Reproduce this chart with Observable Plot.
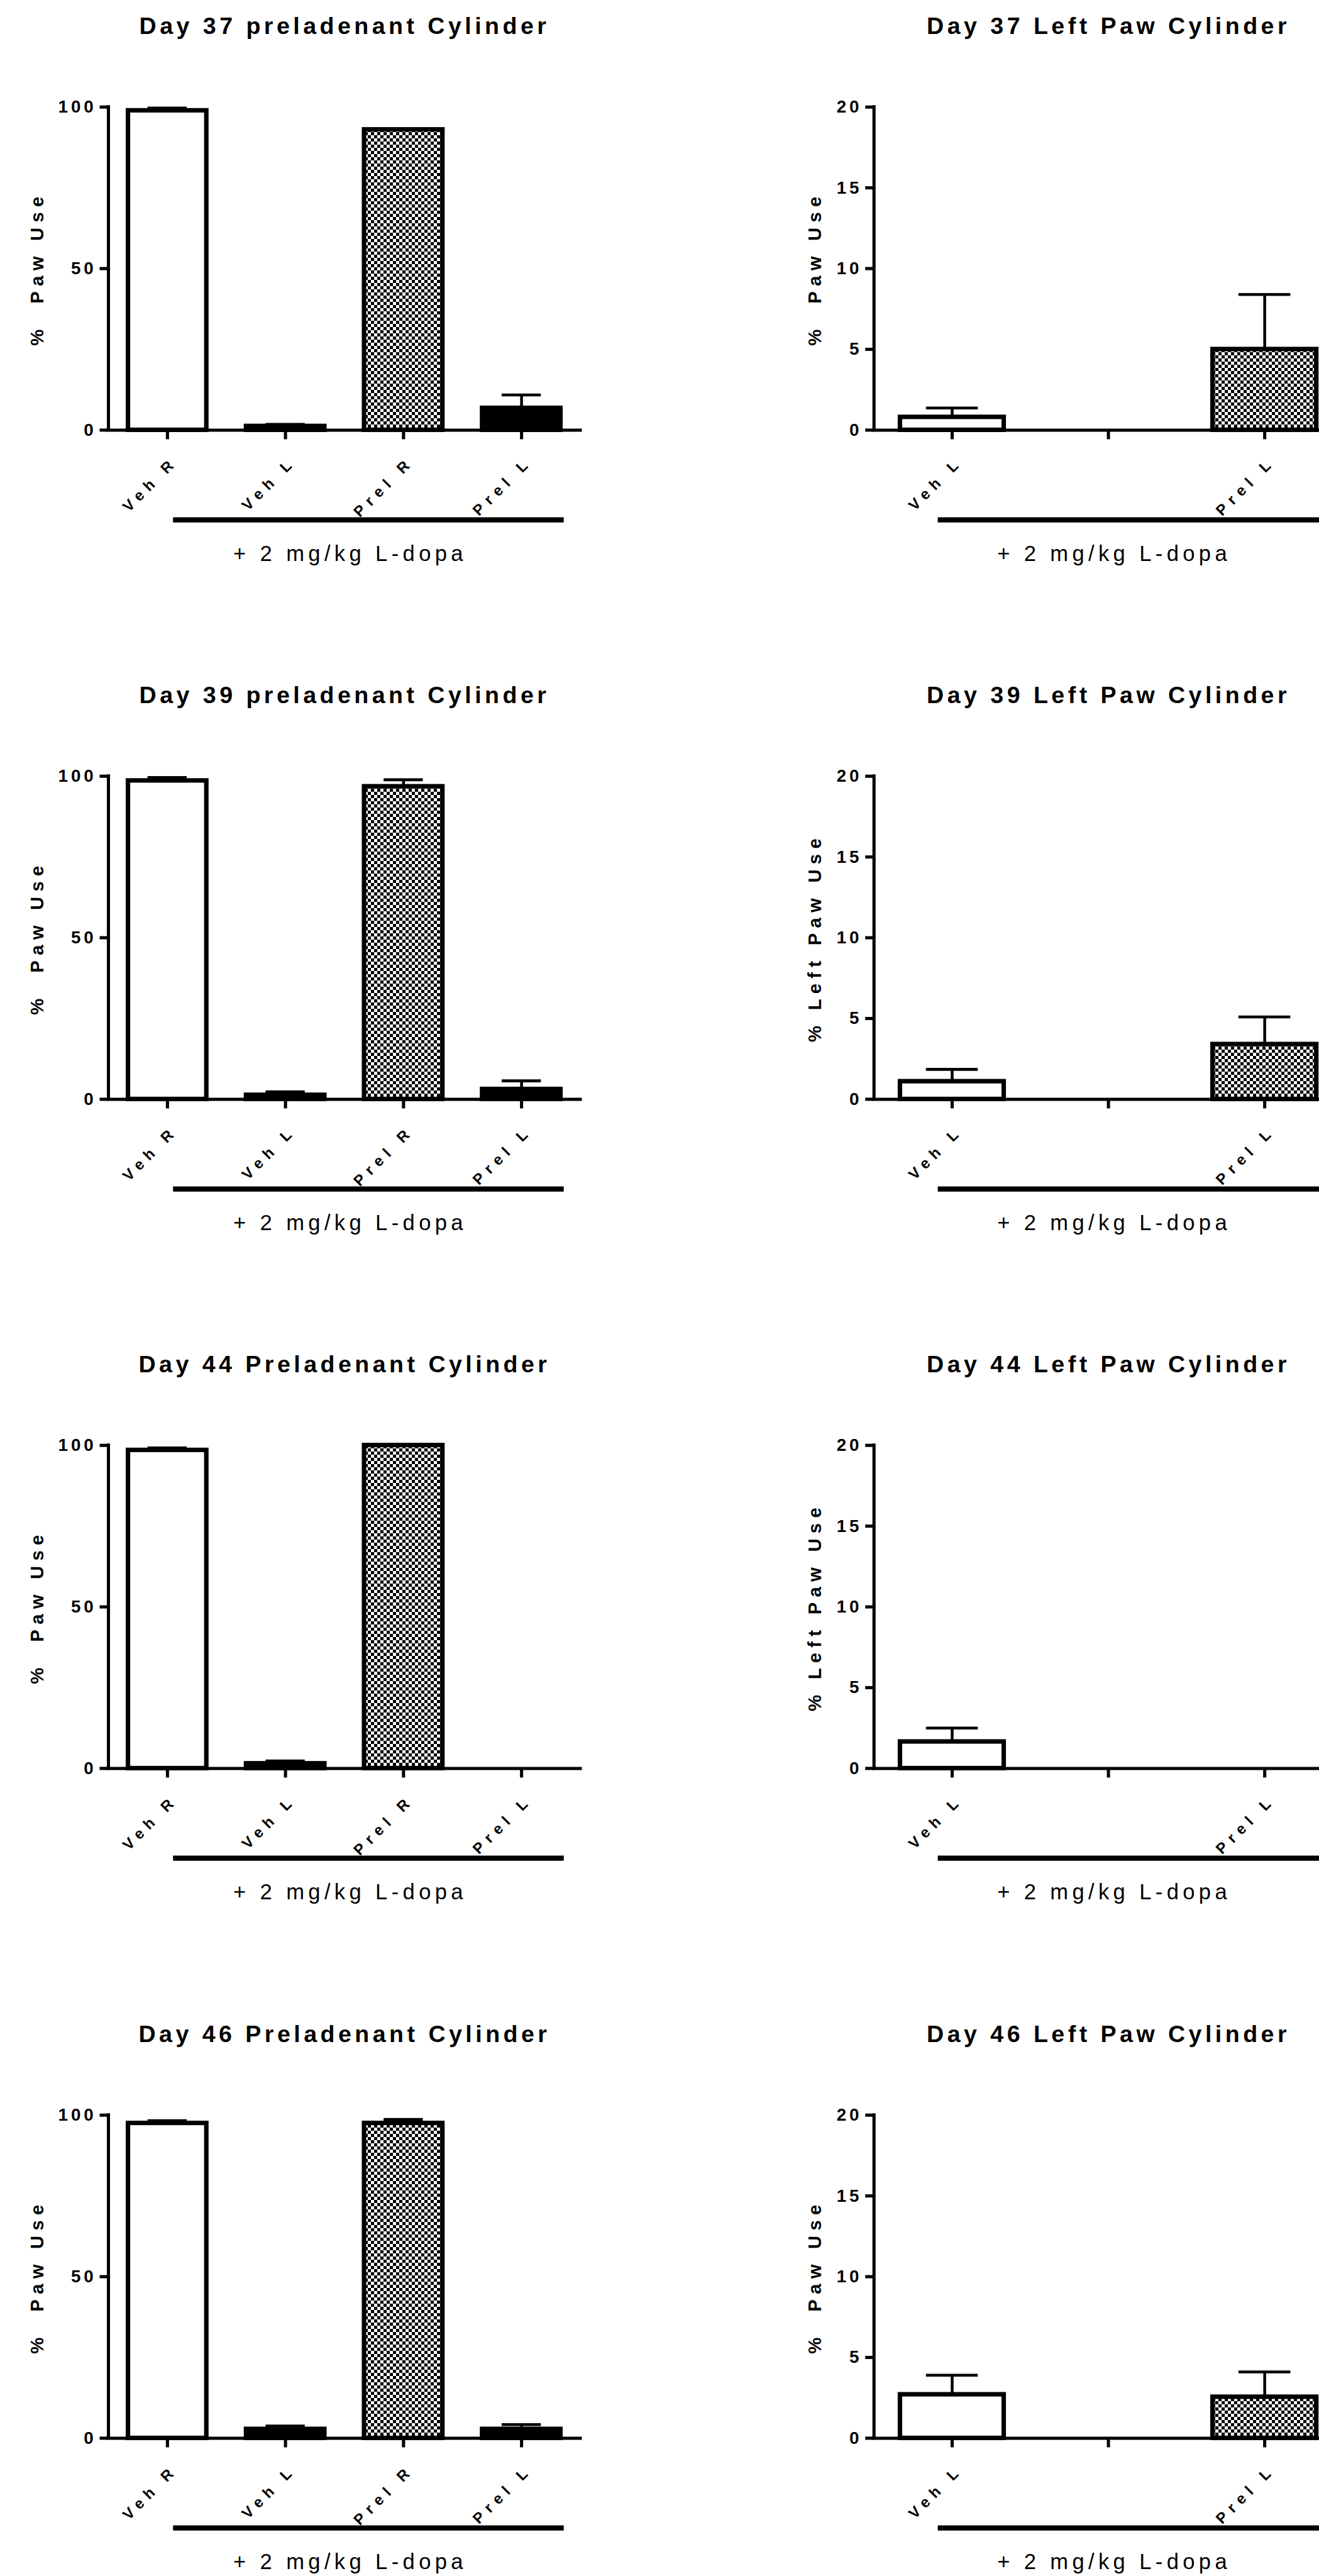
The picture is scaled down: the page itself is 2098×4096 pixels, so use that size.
<!DOCTYPE html>
<html>
<head>
<meta charset="utf-8">
<script src="https://cdn.jsdelivr.net/npm/d3@7"></script>
<script src="https://cdn.jsdelivr.net/npm/@observablehq/plot@0.6"></script>
<style>
  html, body { margin: 0; padding: 0; background: #fff; overflow: hidden; width: 2098px; height: 4096px; }
  #root { position: relative; width: 2098px; height: 4096px; overflow: hidden; font-family: "Liberation Sans", Arial, sans-serif; }
  .panel { position: absolute; }
  .panel svg { overflow: visible; max-width: none !important; }
</style>
</head>
<body>
<svg width="0" height="0" style="position:absolute">
  <defs>
    <pattern id="checker" patternUnits="userSpaceOnUse" width="10" height="10">
      <rect width="10" height="10" fill="#fff"></rect>
      <rect width="5" height="5" fill="#000"></rect>
      <rect x="5" y="5" width="5" height="5" fill="#000"></rect>
    </pattern>
  </defs>
</svg>
<div id="root"></div>
<script>
// ---------- data ----------
const leftTitles = ["Day 37 preladenant Cylinder", "Day 39 preladenant Cylinder", "Day 44 Preladenant Cylinder", "Day 46 Preladenant Cylinder"];
const rightTitles = ["Day 37 Left Paw Cylinder", "Day 39 Left Paw Cylinder", "Day 44 Left Paw Cylinder", "Day 46 Left Paw Cylinder"];
const leftYLabels = ["%  Paw Use", "%  Paw Use", "%  Paw Use", "%  Paw Use"];
const rightYLabels = ["%  Paw Use", "% Left Paw Use", "% Left Paw Use", "%  Paw Use"];
const leftCategories = ["Veh R", "Veh L", "Prel R", "Prel L"];
const rightCategories = ["Veh L", "", "Prel L"];
const leftYTicks = [0, 50, 100];
const rightYTicks = [0, 5, 10, 15, 20];
const groupLabel = "+ 2 mg/kg L-dopa";

// mean values (rows = days 37, 39, 44, 46)
const leftMeans = [
  [98.9, 1.2, 93.0, 6.8],
  [98.6, 1.3, 96.8, 3.1],
  [98.5, 1.5, 100.0, 0],
  [97.5, 2.8, 97.5, 2.8]
];
const leftSems = [
  [0.8, 0.6, 0, 4.1],
  [1.0, 1.0, 2.1, 2.6],
  [0.7, 0.8, 0, 0],
  [0.8, 1.0, 1.2, 1.4]
];
const rightMeans = [
  [0.8, 0, 5.0],
  [1.1, 0, 3.4],
  [1.65, 0, 0],
  [2.7, 0, 2.55]
];
const rightSems = [
  [0.57, 0, 3.4],
  [0.75, 0, 1.7],
  [0.85, 0, 0],
  [1.2, 0, 1.55]
];

// ---------- drawing ----------
const S = 0.751;
const FONT = "Liberation Sans, Arial, sans-serif";
const FS = {title: 50 * S, ytick: 37 * S, ylabel: 39 * S, xlab: 32 * S, group: 46 * S};
const LS = [[FS.title, 7.3 * S], [FS.ytick, 6.6 * S], [FS.ylabel, 11 * S], [FS.xlab, 12 * S], [FS.group, 8.5 * S]];

function fillOf(cat, side) {
  if (side === "left") return cat === "Veh R" ? "white" : cat === "Prel R" ? "url(#checker)" : "black";
  return cat === "Veh L" ? "white" : "url(#checker)";
}

function applySpacing(svg) {
  svg.querySelectorAll("g[font-size]").forEach(g => {
    const fs = parseFloat(g.getAttribute("font-size"));
    for (const [size, ls] of LS) if (Math.abs(fs - size) < 0.01) g.setAttribute("letter-spacing", ls);
  });
}

function panel({cats, means, sems, yMax, yTicks, title, ylabel, side, ml, step, mr, ylabDx, bracket}) {
  const n = cats.length;
  const rows = cats.map((c, i) => ({i, cat: c, mean: means[i], sem: sems[i]}));
  const bars = rows.filter(d => d.cat && d.mean > 0).map(d => ({...d, fill: fillOf(d.cat, side)}));
  const errs = bars.filter(d => d.sem > 0);
  const labels = rows.filter(d => d.cat);
  const half = 0.332, cap = 0.166;
  const marks = [];
  for (const f of ["white", "black", "url(#checker)"]) {
    marks.push(Plot.rect(bars.filter(d => d.fill === f), {
      x1: d => d.i - half, x2: d => d.i + half, y1: () => 0, y2: "mean",
      fill: f, stroke: "black", strokeWidth: 9.5 * S
    }));
  }
  marks.push(Plot.ruleX(errs, {x: "i", y1: "mean", y2: d => d.mean + d.sem, stroke: "black", strokeWidth: 6 * S}));
  marks.push(Plot.ruleY(errs, {y: d => d.mean + d.sem, x1: d => d.i - cap, x2: d => d.i + cap, stroke: "black", strokeWidth: 6 * S}));
  // axes
  marks.push(Plot.ruleY([0], {stroke: "black", strokeWidth: 6.7 * S, strokeLinecap: "square"}));
  marks.push(Plot.ruleX([-0.5], {y1: () => 0, y2: () => yMax, stroke: "black", strokeWidth: 6.7 * S, strokeLinecap: "square"}));
  marks.push(Plot.axisY({ticks: yTicks, tickSize: 18 * S, tickPadding: 7 * S, tickFormat: d => String(d),
    fontSize: FS.ytick, fontWeight: "bold", strokeWidth: 6.7 * S, label: null}));
  marks.push(Plot.axisX({ticks: rows.map(d => d.i), tickSize: 20 * S, tickFormat: () => "", strokeWidth: 6.7 * S, label: null}));
  marks.push(Plot.text(labels, {x: "i", text: "cat", frameAnchor: "bottom", rotate: -45, textAnchor: "end",
    dx: 23.5 * S, dy: 69.5 * S, fontSize: FS.xlab, fontWeight: "bold"}));
  marks.push(Plot.text([ylabel], {text: d => d, frameAnchor: "left", rotate: -90, textAnchor: "middle", lineAnchor: "middle",
    dx: -ylabDx * S, fontSize: FS.ylabel, fontWeight: "bold"}));
  marks.push(Plot.text([title], {text: d => d, frameAnchor: "top", lineAnchor: "middle", dy: -171 * S, fontSize: FS.title,
    fontWeight: "bold"}));
  marks.push(Plot.ruleY([bracket], {y: () => 0, x1: d => d[0], x2: d => d[1], dy: 190 * S, stroke: "black", strokeWidth: 11 * S}));
  marks.push(Plot.text([groupLabel], {text: d => d, frameAnchor: "bottom", lineAnchor: "middle", dx: 12 * S, dy: 263 * S,
    fontSize: FS.group, fontWeight: "normal"}));

  const svg = Plot.plot({
    width: (ml + n * step + mr) * S,
    height: 1196 * S,
    marginLeft: ml * S, marginRight: mr * S, marginTop: 226 * S, marginBottom: 286 * S,
    x: {domain: [-0.5, n - 0.5]},
    y: {domain: [0, yMax]},
    style: {fontFamily: FONT, overflow: "visible", color: "black", background: "transparent"},
    marks
  });
  applySpacing(svg);
  return svg;
}

const root = document.getElementById("root");
for (let r = 0; r < 4; r++) {
  const top = r * 1417 * S;
  const L = panel({cats: leftCategories, means: leftMeans[r], sems: leftSems[r], yMax: 100, yTicks: leftYTicks,
    title: leftTitles[r], ylabel: leftYLabels[r], side: "left", ml: 229, step: 250, mr: 166, ylabDx: 150, bracket: [0.05, 3.36]});
  const dl = document.createElement("div");
  dl.className = "panel"; dl.style.left = "0px"; dl.style.top = top + "px";
  dl.appendChild(L); root.appendChild(dl);

  const R = panel({cats: rightCategories, means: rightMeans[r], sems: rightSems[r], yMax: 20, yTicks: rightYTicks,
    title: rightTitles[r], ylabel: rightYLabels[r], side: "right", ml: 455, step: 331, mr: 50, ylabDx: 125, bracket: [-0.09, 2.4]});
  const dr = document.createElement("div");
  dr.className = "panel"; dr.style.left = (1395 * S) + "px"; dr.style.top = top + "px";
  dr.appendChild(R); root.appendChild(dr);
}
</script>
</body>
</html>
